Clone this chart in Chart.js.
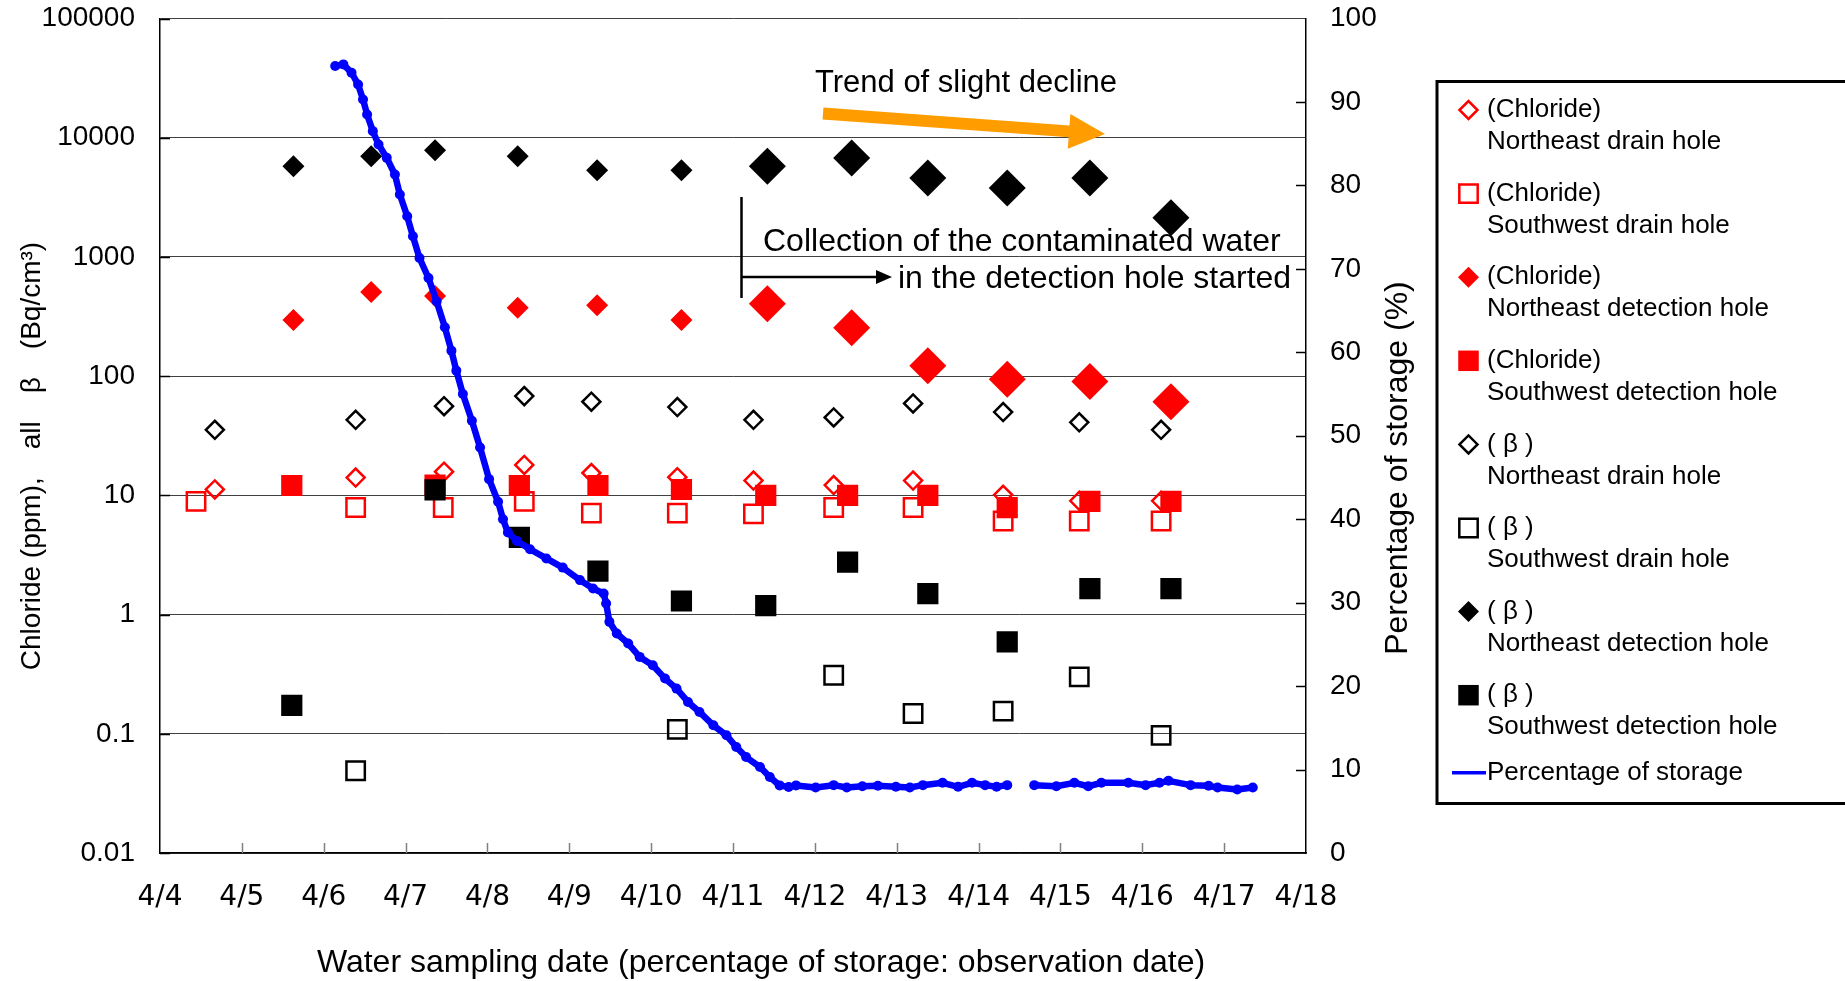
<!DOCTYPE html>
<html>
<head>
<meta charset="utf-8">
<title>Chloride and all beta in drain / detection holes</title>
<script src="https://cdn.jsdelivr.net/npm/chart.js@4.4.1/dist/chart.umd.min.js"></script>
<style>
  html, body { margin: 0; padding: 0; background: #fff; overflow: hidden; }
  #chart { display: block; }
</style>
</head>
<body>
<canvas id="chart" width="1845" height="981"></canvas>
<script>
// axis ticks
const xTickLabels = ["4/4", "4/5", "4/6", "4/7", "4/8", "4/9", "4/10", "4/11", "4/12", "4/13", "4/14", "4/15", "4/16", "4/17", "4/18"];
const leftTicks = [0.01, 0.1, 1, 10, 100, 1000, 10000, 100000];

// sampling days (day of April)
const neDrainDays = [4.67, 6.39, 7.47, 8.45, 9.27, 10.32, 11.25, 12.23, 13.2, 14.3, 15.23, 16.23];
const swDrainDays = [4.44, 6.39, 7.46, 8.45, 9.27, 10.32, 11.25, 12.23, 13.2, 14.3, 15.23, 16.23];
const swDrainBetaDays = [6.39, 10.32, 12.23, 13.2, 14.3, 15.23, 16.23];
const neDetectDays = [5.63, 6.58, 7.36, 8.37, 9.34, 10.37, 11.42, 12.45, 13.38, 14.35, 15.36, 16.35];
const swDetectDays = [5.61, 7.36, 8.39, 9.35, 10.37, 11.4, 12.4, 13.38, 14.35, 15.36, 16.35];

// chloride (ppm)
const chlorideNeDrain = [11.2, 14.1, 15.8, 18.0, 15.4, 14.2, 13.3, 12.2, 13.3, 10.1, 9.0, 9.0];
const chlorideSwDrain = [8.9, 7.9, 7.9, 8.9, 7.1, 7.1, 7.0, 7.9, 7.9, 6.1, 6.1, 6.1];
const chlorideNeDetect = [296, 508, 470, 375, 393, 296, 405, 255, 122, 94, 90, 61];
const chlorideSwDetect = [12.1, 12.2, 12.1, 12.1, 11.2, 10.0, 10.0, 10.0, 7.9, 8.9, 8.9];

// all beta (Bq/cm3)
const betaNeDrain = [35.5, 43, 56, 68, 61, 55, 43, 45, 59, 50, 41, 35.5];
const betaSwDrain = [0.049, 0.109, 0.31, 0.148, 0.155, 0.3, 0.097];
const betaNeDetect = [5770, 6990, 7850, 6990, 5340, 5340, 5770, 6760, 4600, 3790, 4600, 2130];
const betaSwDetect = [0.173, 11.1, 4.45, 2.31, 1.3, 1.19, 2.75, 1.5, 0.59, 1.65, 1.65];

// percentage of storage (%), null = no observation
const storageDays = [6.14, 6.24, 6.34, 6.42, 6.48, 6.53, 6.6, 6.67, 6.77, 6.87, 6.93, 7.02, 7.09, 7.17, 7.28,
  7.38, 7.48, 7.56, 7.62, 7.7, 7.81, 7.91, 8.02, 8.13, 8.19, 8.25, 8.36, 8.52, 8.72, 8.92, 9.13, 9.29, 9.42,
  9.45, 9.49, 9.58, 9.72, 9.86, 10.02, 10.17, 10.31, 10.45, 10.59, 10.76, 10.92, 11.04, 11.16, 11.33, 11.45,
  11.57, 11.68, 11.77, 12.01, 12.23, 12.39, 12.58, 12.77, 12.99, 13.16, 13.32, 13.56, 13.75, 13.92, 14.08,
  14.22, 14.35, 14.5, 14.68, 14.95, 15.17, 15.34, 15.5, 15.83, 16.04, 16.21, 16.32, 16.59, 16.81, 16.92,
  17.16, 17.35];
const storagePct = [94.3, 94.5, 93.5, 92.1, 90.3, 88.5, 86.5, 84.9, 83.3, 81.3, 78.9, 76.3, 73.9, 71.3, 68.9,
  66.1, 63.0, 60.2, 57.8, 55.0, 51.8, 48.6, 44.8, 42.1, 40.0, 38.4, 37.4, 36.4, 35.3, 34.2, 32.7, 31.7, 31.1,
  29.9, 27.7, 26.3, 25.1, 23.5, 22.5, 20.9, 19.7, 18.1, 16.9, 15.3, 14.1, 12.7, 11.5, 10.3, 9.1,
  8.1, 7.9, 8.1, 7.85, 8.13, 7.85, 8.0, 8.05, 7.93, 7.85, 8.13, 8.41, 7.93, 8.41, 8.13,
  7.93, 8.13, null, 8.13, 8.0, 8.41, 8.0, 8.41, 8.41, 8.13, 8.41, 8.65, 8.13, 8.05, 7.85,
  7.6, 7.85];

// collection of the contaminated water in the detection hole started
const collectionStart = 11.1;

const RED = "#ff0000";
const BLACK = "#000000";
const BLUE = "#0000ff";
const NONE = "rgba(0,0,0,0)";
const SANS = "'Liberation Sans', Arial, sans-serif";

function points(days, values) {
  return days.map((d, i) => ({ x: d, y: values[i] }));
}

function detectRadius(ctx) {
  return ctx.raw && ctx.raw.x > collectionStart ? 18.5 : 11;
}

// chart area is fixed, so drop the extra room chart.js keeps for edge labels
function noEdgePadding(scale) {
  scale.paddingTop = 0;
  scale.paddingBottom = 0;
  scale.paddingLeft = 0;
  scale.paddingRight = 0;
}

const datasets = [
  {
    label: ["(Chloride)", "Northeast drain hole"],
    data: points(neDrainDays, chlorideNeDrain),
    pointStyle: "rectRot", pointRadius: 9, legendRadius: 9,
    backgroundColor: NONE, borderColor: RED, borderWidth: 2.5, order: 8,
  },
  {
    label: ["(Chloride)", "Southwest drain hole"],
    data: points(swDrainDays, chlorideSwDrain),
    pointStyle: "rect", pointRadius: 13, legendRadius: 13,
    backgroundColor: NONE, borderColor: RED, borderWidth: 2.5, order: 6,
  },
  {
    label: ["(Chloride)", "Northeast detection hole"],
    data: points(neDetectDays, chlorideNeDetect),
    pointStyle: "rectRot", pointRadius: detectRadius, legendRadius: 10.5,
    backgroundColor: RED, borderColor: RED, borderWidth: 0, order: 4,
  },
  {
    label: ["(Chloride)", "Southwest detection hole"],
    data: points(swDetectDays, chlorideSwDetect),
    pointStyle: "rect", pointRadius: 15, legendRadius: 14.5,
    backgroundColor: RED, borderColor: RED, borderWidth: 0, order: 2,
  },
  {
    label: ["( β )", "Northeast drain hole"],
    data: points(neDrainDays, betaNeDrain),
    pointStyle: "rectRot", pointRadius: 9, legendRadius: 9,
    backgroundColor: NONE, borderColor: BLACK, borderWidth: 2.5, order: 7,
  },
  {
    label: ["( β )", "Southwest drain hole"],
    data: points(swDrainBetaDays, betaSwDrain),
    pointStyle: "rect", pointRadius: 13, legendRadius: 13,
    backgroundColor: NONE, borderColor: BLACK, borderWidth: 2.5, order: 5,
  },
  {
    label: ["( β )", "Northeast detection hole"],
    data: points(neDetectDays, betaNeDetect),
    pointStyle: "rectRot", pointRadius: detectRadius, legendRadius: 10.5,
    backgroundColor: BLACK, borderColor: BLACK, borderWidth: 0, order: 3,
  },
  {
    label: ["( β )", "Southwest detection hole"],
    data: points(swDetectDays, betaSwDetect),
    pointStyle: "rect", pointRadius: 15, legendRadius: 14.5,
    backgroundColor: BLACK, borderColor: BLACK, borderWidth: 0, order: 1,
  },
  {
    type: "line",
    label: ["Percentage of storage"],
    data: points(storageDays, storagePct),
    yAxisID: "y2",
    borderColor: BLUE, backgroundColor: BLUE, borderWidth: 6.5,
    pointRadius: 5, pointBorderWidth: 0, pointBackgroundColor: BLUE,
    borderCapStyle: "round", borderJoinStyle: "round",
    tension: 0, spanGaps: false, order: 0,
  },
];

function marker(ctx, style, x, y, r, fill, stroke, lw) {
  ctx.beginPath();
  if (style === "rectRot") {
    ctx.moveTo(x - r, y);
    ctx.lineTo(x, y - r);
    ctx.lineTo(x + r, y);
    ctx.lineTo(x, y + r);
    ctx.closePath();
  } else {
    const s = r * Math.SQRT1_2;
    ctx.rect(x - s, y - s, 2 * s, 2 * s);
  }
  if (fill !== NONE) {
    ctx.fillStyle = fill;
    ctx.fill();
  }
  if (lw > 0) {
    ctx.strokeStyle = stroke;
    ctx.lineWidth = lw;
    ctx.stroke();
  }
}

// inward tick marks, axis titles, notes and the boxed legend
const decorations = {
  id: "decorations",
  afterDatasetsDraw(chart) {
    const ctx = chart.ctx;
    const x = chart.scales.x;
    const y = chart.scales.y;
    const y2 = chart.scales.y2;
    const area = chart.chartArea;

    ctx.save();

    // tick marks pointing into the plot
    ctx.lineWidth = 1.5;
    ctx.strokeStyle = "#808080";
    for (let d = 5; d < 18; d++) {
      const px = Math.round(x.getPixelForValue(d)) + 0.5;
      ctx.beginPath();
      ctx.moveTo(px, area.bottom);
      ctx.lineTo(px, area.bottom - 10);
      ctx.stroke();
    }
    ctx.strokeStyle = "#000";
    for (let p = 10; p < 100; p += 10) {
      const py = Math.round(y2.getPixelForValue(p)) + 0.5;
      ctx.beginPath();
      ctx.moveTo(area.right, py);
      ctx.lineTo(area.right - 10, py);
      ctx.stroke();
    }
    leftTicks.forEach((v) => {
      const py = Math.round(y.getPixelForValue(v)) + 0.5;
      ctx.beginPath();
      ctx.moveTo(area.left, py);
      ctx.lineTo(area.left + 10, py);
      ctx.stroke();
    });

    // trend arrow
    const ax0 = 823, ay0 = 113.5, ax1 = 1105, ay1 = 134;
    const len = Math.hypot(ax1 - ax0, ay1 - ay0);
    ctx.save();
    ctx.translate(ax0, ay0);
    ctx.rotate(Math.atan2(ay1 - ay0, ax1 - ax0));
    ctx.fillStyle = "#ff9d00";
    ctx.beginPath();
    ctx.moveTo(0, -6);
    ctx.lineTo(len - 36, -6);
    ctx.lineTo(len - 36, -17.5);
    ctx.lineTo(len, 0);
    ctx.lineTo(len - 36, 17.5);
    ctx.lineTo(len - 36, 6);
    ctx.lineTo(0, 6);
    ctx.closePath();
    ctx.fill();
    ctx.restore();

    ctx.fillStyle = "#000";
    ctx.textBaseline = "middle";
    ctx.font = "31px " + SANS;
    ctx.textAlign = "center";
    ctx.fillText("Trend of slight decline", 966, 83);

    // start of collection in the detection hole
    const cx = Math.round(x.getPixelForValue(collectionStart)) + 0.5;
    ctx.strokeStyle = "#000";
    ctx.lineWidth = 2.5;
    ctx.beginPath();
    ctx.moveTo(cx, 197);
    ctx.lineTo(cx, 298);
    ctx.moveTo(cx, 277);
    ctx.lineTo(878, 277);
    ctx.stroke();
    ctx.fillStyle = "#000";
    ctx.beginPath();
    ctx.moveTo(892, 277);
    ctx.lineTo(876, 270);
    ctx.lineTo(876, 284);
    ctx.closePath();
    ctx.fill();

    ctx.font = "32px " + SANS;
    ctx.textAlign = "left";
    ctx.fillText("Collection of the contaminated water", 763, 242);
    ctx.fillText("in the detection hole started", 898, 279);

    // axis titles
    ctx.textAlign = "center";
    ctx.font = "32px " + SANS;
    ctx.fillText("Water sampling date (percentage of storage: observation date)", 761, 963);

    ctx.save();
    ctx.translate(32, 456);
    ctx.rotate(-Math.PI / 2);
    ctx.font = "28px " + SANS;
    ctx.fillText("Chloride (ppm),\u3000all\u3000β\u3000(Bq/cm³)", 0, 0);
    ctx.restore();

    ctx.save();
    ctx.translate(1398, 468);
    ctx.rotate(-Math.PI / 2);
    ctx.font = "32px " + SANS;
    ctx.fillText("Percentage of storage (%)", 0, 0);
    ctx.restore();

    // legend
    ctx.strokeStyle = "#000";
    ctx.lineWidth = 3;
    ctx.strokeRect(1437, 81.5, 500, 722);

    ctx.font = "26px " + SANS;
    ctx.textAlign = "left";
    ctx.fillStyle = "#000";
    chart.data.datasets.forEach((ds, i) => {
      const rowY = 110 + i * 83.6;
      if (ds.type === "line") {
        const ly = rowY - 6;
        ctx.strokeStyle = ds.borderColor;
        ctx.lineWidth = 3.5;
        ctx.beginPath();
        ctx.moveTo(1452, ly);
        ctx.lineTo(1486, ly);
        ctx.stroke();
        ctx.fillStyle = "#000";
        ctx.fillText(ds.label[0], 1487, ly);
        return;
      }
      marker(ctx, ds.pointStyle, 1468.5, rowY, ds.legendRadius, ds.backgroundColor, ds.borderColor, ds.borderWidth);
      ctx.fillStyle = "#000";
      ctx.fillText(ds.label[0], 1487, rowY);
      ctx.fillText(ds.label[1], 1487, rowY + 32);
    });

    ctx.restore();
  },
};

const chart = new Chart(document.getElementById("chart"), {
  type: "scatter",
  data: { datasets: datasets },
  options: {
    responsive: false,
    animation: false,
    events: [],
    layout: { padding: { top: 17, left: 0, right: 0, bottom: 0 } },
    plugins: {
      legend: { display: false },
      tooltip: { enabled: false },
    },
    scales: {
      x: {
        type: "linear",
        min: 4,
        max: 18,
        afterFit: (scale) => { scale.height = 128; noEdgePadding(scale); },
        ticks: {
          stepSize: 1,
          padding: 28,
          color: "#000",
          font: { family: "'DejaVu Sans', sans-serif", size: 28 },
          callback: (v, i) => xTickLabels[i],
        },
        grid: { display: false, drawTicks: false },
        border: { display: true, color: "#000", width: 1.5 },
      },
      y: {
        type: "logarithmic",
        position: "left",
        min: 0.01,
        max: 100000,
        afterFit: (scale) => { scale.width = 160; noEdgePadding(scale); },
        afterBuildTicks: (scale) => {
          scale.ticks = leftTicks.map((v) => ({ value: v }));
        },
        ticks: {
          padding: 25,
          color: "#000",
          font: { family: SANS, size: 28 },
          callback: (v) => String(v),
        },
        grid: { color: "#404040", lineWidth: 1, drawTicks: false },
        border: { display: true, color: "#000", width: 1.5 },
      },
      y2: {
        type: "linear",
        position: "right",
        min: 0,
        max: 100,
        afterFit: (scale) => { scale.width = 539; noEdgePadding(scale); },
        ticks: {
          stepSize: 10,
          padding: 24,
          color: "#000",
          font: { family: SANS, size: 28 },
        },
        grid: { display: false, drawTicks: false },
        border: { display: true, color: "#000", width: 1.5 },
      },
    },
  },
  plugins: [decorations],
});
</script>
</body>
</html>
